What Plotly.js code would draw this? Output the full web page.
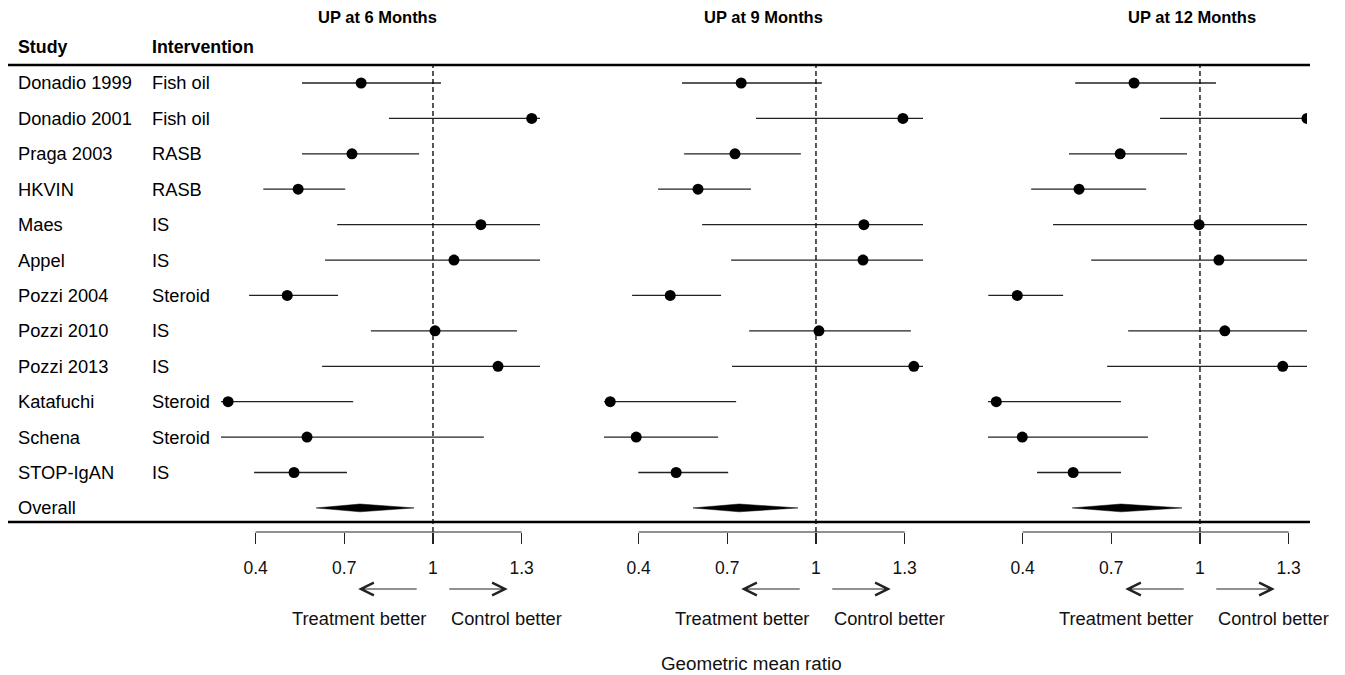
<!DOCTYPE html>
<html>
<head>
<meta charset="utf-8">
<script src="https://cdn.plot.ly/plotly-3.0.1.min.js"></script>
<style>html,body{margin:0;padding:0;background:#fff;}#chart{width:1345px;height:675px;}</style>
</head>
<body>
<div id="chart"></div>
<script>
// ---------- data ----------
const studies = ['Donadio 1999','Donadio 2001','Praga 2003','HKVIN','Maes','Appel','Pozzi 2004','Pozzi 2010','Pozzi 2013','Katafuchi','Schena','STOP-IgAN'];
const interventions = ['Fish oil','Fish oil','RASB','RASB','IS','IS','Steroid','IS','IS','Steroid','Steroid','IS'];
const overallLabel = 'Overall';

const panelTitles = ['UP at 6 Months','UP at 9 Months','UP at 12 Months'];

const m6_est = [0.757,1.334,0.726,0.544,1.162,1.071,0.507,1.007,1.220,0.307,0.574,0.530];
const m6_lo  = [0.557,0.851,0.557,0.426,0.676,0.635,0.378,0.790,0.625,0.250,0.250,0.395];
const m6_hi  = [1.027,1.400,0.953,0.703,1.450,1.450,0.679,1.284,1.450,0.730,1.172,0.709];
const m6_overall = [0.605,0.753,0.936]; // lo, est, hi

const m9_est = [0.747,1.294,0.726,0.601,1.162,1.159,0.507,1.010,1.331,0.304,0.392,0.527];
const m9_lo  = [0.547,0.797,0.554,0.466,0.615,0.713,0.378,0.774,0.716,0.250,0.280,0.399];
const m9_hi  = [1.020,1.400,0.949,0.780,1.450,1.450,0.679,1.321,1.400,0.730,0.669,0.703];
const m9_overall = [0.584,0.740,0.939];

const m12_est = [0.777,1.362,0.730,0.591,0.997,1.064,0.382,1.084,1.280,0.311,0.399,0.571];
const m12_lo  = [0.578,0.865,0.557,0.429,0.503,0.632,0.284,0.757,0.686,0.250,0.250,0.449];
const m12_hi  = [1.054,1.450,0.956,0.818,1.450,1.450,0.537,1.450,1.450,0.733,0.824,0.733];
const m12_overall = [0.568,0.733,0.939];

const tickVals = [0.4,0.7,1,1.3];
const tickText = ['0.4','0.7','1','1.3'];
const nullValue = 1;
const leftLabel = 'Treatment better';
const rightLabel = 'Control better';
const xTitle = 'Geometric mean ratio';

// ---------- build ----------
const W = 1345, H = 675;
const FONT = 'Liberation Sans, Arial, sans-serif';
const TXT = 18.3;
const panels = [
  {est:m6_est, lo:m6_lo, hi:m6_hi, ov:m6_overall, ax:'x',  axName:'xaxis',  dom:[221,540], titleX:377},
  {est:m9_est, lo:m9_lo, hi:m9_hi, ov:m9_overall, ax:'x2', axName:'xaxis2', dom:[604,923], titleX:763},
  {est:m12_est,lo:m12_lo,hi:m12_hi,ov:m12_overall,ax:'x3', axName:'xaxis3', dom:[988,1307], titleX:1192}
];
const xRange = [0.283, 1.362];
const rows = studies.map((s,i)=>i);
const overallRow = studies.length;
const diamondH = 0.11;

const traces = [];
const layout = {
  width: W, height: H,
  margin: {l:0, r:0, t:65, b:143},
  paper_bgcolor: '#fff', plot_bgcolor: 'rgba(0,0,0,0)',
  showlegend: false,
  font: {family: FONT, color: '#000', size: TXT},
  yaxis: {range: [12.68, -0.508], visible: false, anchor: 'x', fixedrange: true},
  shapes: [], annotations: []
};

panels.forEach((p, k) => {
  traces.push({
    type: 'scatter', mode: 'markers', xaxis: p.ax, yaxis: 'y',
    x: p.est, y: rows,
    marker: {color: '#000', size: 11},
    error_x: {type: 'data', symmetric: false,
      array: p.hi.map((h,i)=>h - p.est[i]),
      arrayminus: p.lo.map((l,i)=>p.est[i] - l),
      width: 0, thickness: 1.3, color: '#222'},
    cliponaxis: true, hoverinfo: 'skip'
  });
  traces.push({
    type: 'scatter', mode: 'lines', xaxis: p.ax, yaxis: 'y',
    x: [p.ov[0], p.ov[1], p.ov[2], p.ov[1], p.ov[0]],
    y: [overallRow, overallRow - diamondH, overallRow, overallRow + diamondH, overallRow],
    fill: 'toself', fillcolor: '#000', line: {width: 0.5, color: '#000'}, hoverinfo: 'skip'
  });
  layout[p.axName] = {
    domain: [p.dom[0]/W, p.dom[1]/W], range: xRange, anchor: 'y',
    showgrid: false, zeroline: false, showline: false,
    tickmode: 'array', tickvals: tickVals, ticktext: tickText,
    ticks: 'outside', ticklen: 11, tickwidth: 1.2, tickcolor: '#222',
    ticklabelstandoff: 9,
    tickfont: {family: FONT, size: 17.5, color: '#111'}, fixedrange: true
  };
  // null line
  layout.shapes.push({type:'line', xref:p.ax, yref:'paper', x0:nullValue, x1:nullValue, y0:0, y1:1,
    line:{color:'#000', width:1.3, dash:'5px,3px'}});
  // bracket line
  layout.shapes.push({type:'line', xref:p.ax, yref:'paper', x0:tickVals[0], x1:tickVals[tickVals.length-1], y0:0, y1:0,
    line:{color:'#222', width:1.2}});
  // panel title
  layout.annotations.push({xref:'paper', yref:'paper', x:p.titleX/W, y:(532-17)/467, text:'<b>'+panelTitles[k]+'</b>',
    showarrow:false, xanchor:'center', yanchor:'middle', font:{family:FONT, size:16.5, color:'#000'}});
  // arrows
  layout.annotations.push({xref:p.ax, yref:'paper', x:0.747, y:(532-589)/467, text:'', showarrow:true,
    axref:'pixel', ayref:'pixel', ax:60, ay:0, arrowhead:5, arrowsize:2.3, arrowwidth:1.1, arrowcolor:'#222', standoff:0});
  layout.annotations.push({xref:p.ax, yref:'paper', x:1.253, y:(532-589)/467, text:'', showarrow:true,
    axref:'pixel', ayref:'pixel', ax:-60, ay:0, arrowhead:5, arrowsize:2.3, arrowwidth:1.1, arrowcolor:'#222', standoff:0});
  layout.annotations.push({xref:p.ax, yref:'paper', x:0.75, y:(532-618)/467, text:leftLabel, showarrow:false,
    xanchor:'center', yanchor:'middle', font:{family:FONT, size:TXT, color:'#111'}});
  layout.annotations.push({xref:p.ax, yref:'paper', x:1.247, y:(532-618)/467, text:rightLabel, showarrow:false,
    xanchor:'center', yanchor:'middle', font:{family:FONT, size:TXT, color:'#111'}});
});

// row labels
studies.concat([overallLabel]).forEach((s,i)=>{
  layout.annotations.push({xref:'paper', yref:'y', x:16/W, y:i, text:s, showarrow:false, xanchor:'left', yanchor:'middle',
    font:{family:FONT, size:TXT, color:'#000'}});
});
interventions.forEach((s,i)=>{
  layout.annotations.push({xref:'paper', yref:'y', x:150/W, y:i, text:s, showarrow:false, xanchor:'left', yanchor:'middle',
    font:{family:FONT, size:TXT, color:'#000'}});
});
// headers
layout.annotations.push({xref:'paper', yref:'paper', x:16/W, y:(532-47)/467, text:'<b>Study</b>', showarrow:false,
  xanchor:'left', yanchor:'middle', font:{family:FONT, size:17.8, color:'#000'}});
layout.annotations.push({xref:'paper', yref:'paper', x:150/W, y:(532-47)/467, text:'<b>Intervention</b>', showarrow:false,
  xanchor:'left', yanchor:'middle', font:{family:FONT, size:17.8, color:'#000'}});
layout.annotations.push({xref:'paper', yref:'paper', x:752/W, y:(532-663)/467, text:xTitle, showarrow:false,
  xanchor:'center', yanchor:'middle', font:{family:FONT, size:18.8, color:'#111'}});

// thick horizontal rules
layout.shapes.push({type:'line', xref:'paper', yref:'paper', x0:8/W, x1:1310/W, y0:1, y1:1, line:{color:'#000', width:2.6}});
layout.shapes.push({type:'line', xref:'paper', yref:'paper', x0:8/W, x1:1310/W, y0:10/467, y1:10/467, line:{color:'#000', width:2.6}});

Plotly.newPlot('chart', traces, layout, {displayModeBar:false, staticPlot:true});
</script>
</body>
</html>
